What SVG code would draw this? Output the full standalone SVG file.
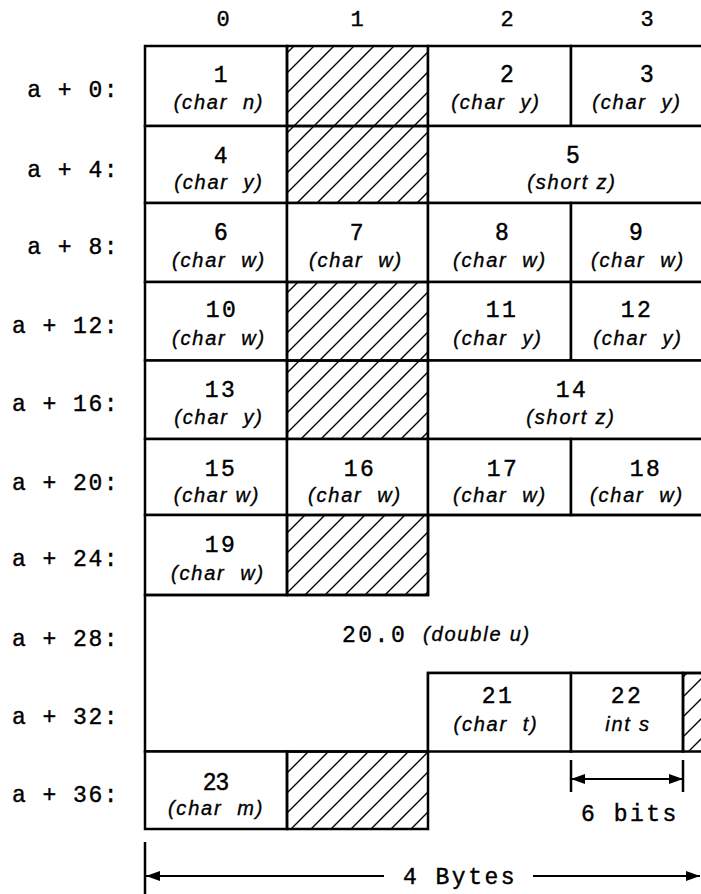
<svg xmlns="http://www.w3.org/2000/svg" width="701" height="894" viewBox="0 0 701 894">
<style>
.cell{fill:#fff;stroke:#000;stroke-width:2.5}
.hat{fill:url(#hatch);stroke:#000;stroke-width:2.5}
.edge{fill:none;stroke:#000;stroke-width:2.5}
.mono{font-family:"Liberation Mono","DejaVu Sans Mono",monospace;font-size:23px;letter-spacing:2.5px;fill:#000;stroke:#000;stroke-width:0.4px;white-space:pre}
.hdr{font-family:"Liberation Mono","DejaVu Sans Mono",monospace;font-size:22px;fill:#000;stroke:#000;stroke-width:0.4px;text-anchor:middle}
.lbl{font-family:"Liberation Mono","DejaVu Sans Mono",monospace;font-size:23px;letter-spacing:1.5px;fill:#000;stroke:#000;stroke-width:0.4px;text-anchor:end;white-space:pre}
.num{font-family:"Liberation Sans",Arial,sans-serif;font-size:23px;fill:#000;stroke:#000;stroke-width:0.5px}
.it{font-family:"Liberation Sans",Arial,sans-serif;font-size:20px;font-style:italic;letter-spacing:1.8px;fill:#000;stroke:#000;stroke-width:0.35px;white-space:pre}
.mid{text-anchor:middle}
.dim{fill:none;stroke:#000;stroke-width:2.2}
.tick{stroke:#000;stroke-width:2.5}
</style>
<defs>
<pattern id="hatch" patternUnits="userSpaceOnUse" width="20" height="20">
<path d="M-5,5 L5,-5 M0,20 L20,0 M15,25 L25,15" stroke="#000" stroke-width="1.4"/>
</pattern>
<marker id="arr" viewBox="0 0 14 10" refX="14" refY="5" markerWidth="14" markerHeight="10" markerUnits="userSpaceOnUse" orient="auto-start-reverse">
<path d="M0,0 L14,5 L0,10 z" fill="#000"/>
</marker>
</defs>
<rect width="701" height="894" fill="#fff"/>

<g id="col-headers">
<text class="hdr" x="223" y="26">0</text>
<text class="hdr" x="357" y="26">1</text>
<text class="hdr" x="507" y="26">2</text>
<text class="hdr" x="647" y="26">3</text>
</g>

<g id="row-labels">
<text class="lbl" x="119" y="97">a + 0:</text>
<text class="lbl" x="119" y="177">a + 4:</text>
<text class="lbl" x="119" y="254">a + 8:</text>
<text class="lbl" x="119" y="333">a + 12:</text>
<text class="lbl" x="119" y="411">a + 16:</text>
<text class="lbl" x="119" y="490">a + 20:</text>
<text class="lbl" x="119" y="566">a + 24:</text>
<text class="lbl" x="119" y="646">a + 28:</text>
<text class="lbl" x="119" y="724">a + 32:</text>
<text class="lbl" x="119" y="802">a + 36:</text>
</g>

<!-- row a+0 -->
<g id="n1"><rect class="cell" x="145" y="46" width="142" height="80"/><text class="mono mid" x="222" y="82">1</text><text class="it mid" x="219" y="109">(char  n)</text></g>
<g id="pad-a0"><rect class="hat" x="287" y="46" width="141" height="80"/></g>
<g id="n2"><rect class="cell" x="428" y="46" width="143" height="80"/><text class="num mid" x="507" y="82">2</text><text class="it mid" x="496" y="109">(char  y)</text></g>
<g id="n3"><rect class="cell" x="571" y="46" width="140" height="80"/><text class="num mid" x="647" y="82">3</text><text class="it mid" x="637" y="109">(char  y)</text></g>

<!-- row a+4 -->
<g id="n4"><rect class="cell" x="145" y="126" width="142" height="77"/><text class="mono mid" x="222" y="163">4</text><text class="it mid" x="219" y="189">(char  y)</text></g>
<g id="pad-a4"><rect class="hat" x="287" y="126" width="141" height="77"/></g>
<g id="n5"><rect class="cell" x="428" y="126" width="283" height="77"/><text class="num mid" x="573" y="163">5</text><text class="it mid" x="572" y="189">(short z)</text></g>

<!-- row a+8 -->
<g id="n6"><rect class="cell" x="145" y="203" width="142" height="79"/><text class="num mid" x="221" y="240">6</text><text class="it mid" x="219" y="267">(char  w)</text></g>
<g id="n7"><rect class="cell" x="287" y="203" width="141" height="79"/><text class="mono mid" x="358" y="240">7</text><text class="it mid" x="356" y="267">(char  w)</text></g>
<g id="n8"><rect class="cell" x="428" y="203" width="143" height="79"/><text class="num mid" x="502" y="240">8</text><text class="it mid" x="500" y="267">(char  w)</text></g>
<g id="n9"><rect class="cell" x="571" y="203" width="140" height="79"/><text class="num mid" x="636" y="240">9</text><text class="it mid" x="638" y="267">(char  w)</text></g>

<!-- row a+12 -->
<g id="n10"><rect class="cell" x="145" y="282" width="142" height="78.5"/><text class="mono mid" x="222" y="317">10</text><text class="it mid" x="219" y="345">(char  w)</text></g>
<g id="pad-a12"><rect class="hat" x="287" y="282" width="141" height="78.5"/></g>
<g id="n11"><rect class="cell" x="428" y="282" width="143" height="78.5"/><text class="mono mid" x="502" y="317">11</text><text class="it mid" x="498" y="345">(char  y)</text></g>
<g id="n12"><rect class="cell" x="571" y="282" width="140" height="78.5"/><text class="mono mid" x="637" y="317">12</text><text class="it mid" x="638" y="345">(char  y)</text></g>

<!-- row a+16 -->
<g id="n13"><rect class="cell" x="145" y="360.5" width="142" height="78.5"/><text class="mono mid" x="221" y="397">13</text><text class="it mid" x="219" y="424">(char  y)</text></g>
<g id="pad-a16"><rect class="hat" x="287" y="360.5" width="141" height="78.5"/></g>
<g id="n14"><rect class="cell" x="428" y="360.5" width="283" height="78.5"/><text class="mono mid" x="572" y="397">14</text><text class="it mid" x="571" y="424">(short z)</text></g>

<!-- row a+20 -->
<g id="n15"><rect class="cell" x="145" y="439" width="142" height="76"/><text class="mono mid" x="221" y="476">15</text><text class="it mid" x="217" y="502">(char w)</text></g>
<g id="n16"><rect class="cell" x="287" y="439" width="141" height="76"/><text class="mono mid" x="360" y="476">16</text><text class="it mid" x="355" y="502">(char  w)</text></g>
<g id="n17"><rect class="cell" x="428" y="439" width="143" height="76"/><text class="mono mid" x="503" y="476">17</text><text class="it mid" x="500" y="502">(char  w)</text></g>
<g id="n18"><rect class="cell" x="571" y="439" width="140" height="76"/><text class="mono mid" x="646" y="476">18</text><text class="it mid" x="637" y="502">(char  w)</text></g>

<!-- row a+24 -->
<g id="n19"><rect class="cell" x="145" y="515" width="142" height="80"/><text class="mono mid" x="221" y="552">19</text><text class="it mid" x="218" y="580">(char  w)</text></g>
<g id="pad-a24"><rect class="hat" x="287" y="515" width="141" height="80"/></g>

<!-- double u -->
<g id="n20"><path class="edge" d="M145,595 H428 V515 H711 V673 H428 V751.5 H145 Z"/><text class="mono" x="342" y="642">20.0</text><text class="it" x="423" y="641">(double u)</text></g>

<!-- row a+32 -->
<g id="n21"><rect class="cell" x="428" y="673" width="143" height="78.5"/><text class="mono mid" x="498" y="703">21</text><text class="it mid" x="496" y="731">(char  t)</text></g>
<g id="n22"><rect class="cell" x="571" y="673" width="112" height="78.5"/><text class="mono mid" x="627" y="703">22</text><text class="it mid" x="628" y="731">int s</text></g>
<g id="pad-a32"><rect class="hat" x="683" y="673" width="30" height="78.5"/></g>

<!-- row a+36 -->
<g id="n23"><rect class="cell" x="145" y="751.5" width="142" height="77.5"/><text class="num mid" x="216" y="790">23</text><text class="it mid" x="216" y="815">(char  m)</text></g>
<g id="pad-a36"><rect class="hat" x="287" y="751.5" width="141" height="77.5"/></g>

<g id="connectors">
<line class="tick" x1="571" y1="760" x2="571" y2="792"/>
<line class="tick" x1="683" y1="760" x2="683" y2="792"/>
<line class="dim" x1="571" y1="779" x2="683" y2="779" marker-start="url(#arr)" marker-end="url(#arr)"/>
<line class="tick" x1="145" y1="842" x2="145" y2="894"/>
<line class="dim" x1="384" y1="876" x2="146" y2="876" marker-end="url(#arr)"/>
<line class="dim" x1="533" y1="876" x2="700" y2="876" marker-end="url(#arr)"/>
</g>

<g id="dim-labels">
<text class="mono mid" x="630" y="821">6 bits</text>
<text class="mono mid" x="460" y="884">4 Bytes</text>
</g>
</svg>
